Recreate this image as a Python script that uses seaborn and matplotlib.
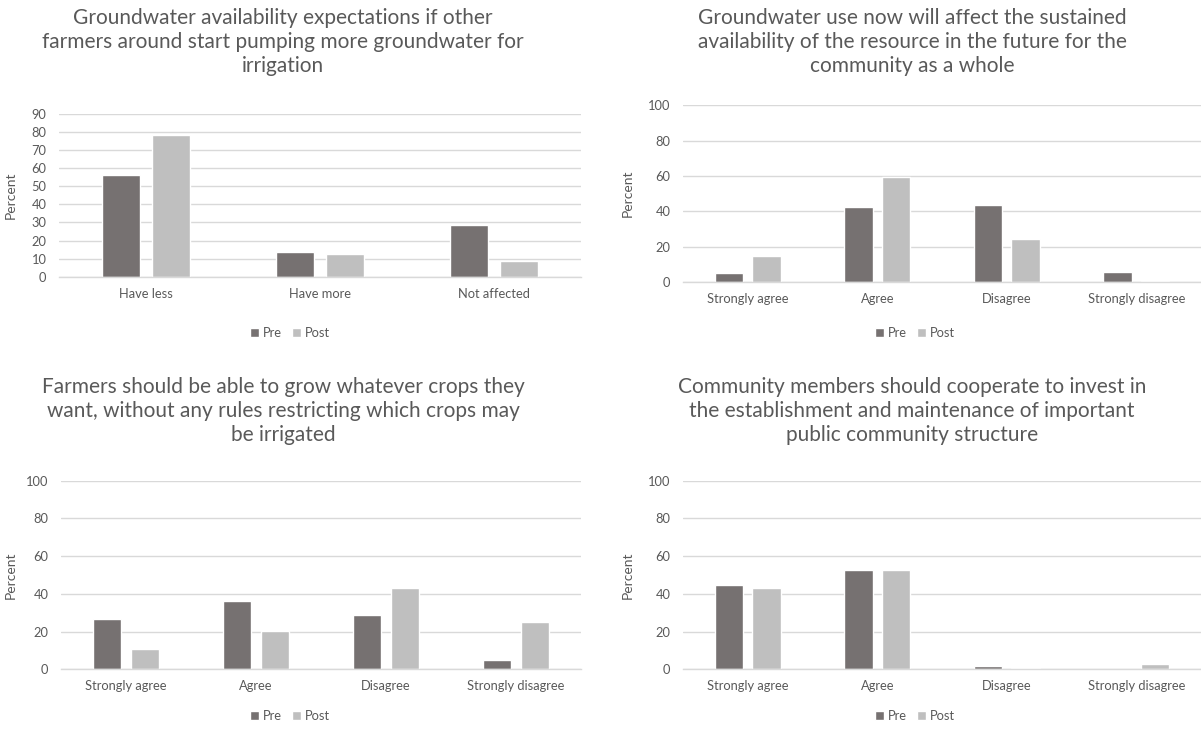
import matplotlib
matplotlib.use("Agg")
import matplotlib.pyplot as plt
from matplotlib.patches import Patch
import pandas as pd
import seaborn as sns

# ---- data -------------------------------------------------------------
series_names = ["Pre", "Post"]

avail_categories = ["Have less", "Have more", "Not affected"]
avail_pre = [56.5, 13.8, 28.5]
avail_post = [78.4, 12.5, 8.6]

agree_categories = ["Strongly agree", "Agree", "Disagree", "Strongly disagree"]

future_pre = [4.9, 42.2, 43.7, 5.7]
future_post = [14.6, 59.6, 24.4, 0.4]

crops_pre = [26.9, 36.3, 29.0, 5.1]
crops_post = [10.6, 20.5, 43.2, 25.1]

coop_pre = [44.9, 52.7, 1.6, 0.0]
coop_post = [43.3, 52.7, 0.5, 3.0]

titles = [
    ["Groundwater availability expectations if other",
     "farmers around start pumping more groundwater for",
     "irrigation"],
    ["Groundwater use now will affect the sustained",
     "availability of the resource in the future for the",
     "community as a whole"],
    ["Farmers should be able to grow whatever crops they",
     "want, without any rules restricting which crops may",
     "be irrigated"],
    ["Community members should cooperate to invest in",
     "the establishment and maintenance of important",
     "public community structure"],
]

# ---- styling ----------------------------------------------------------
PRE_COLOR = "#767171"
POST_COLOR = "#BFBFBF"
GRID_COLOR = "#D9D9D9"
TEXT_COLOR = "#595959"

sns.set_theme(style="white")
plt.rcParams["font.family"] = ["Lato", "DejaVu Sans"]

W, H = 1201, 729
fig = plt.figure(figsize=(W / 100, H / 100), dpi=100)


def px_axes(left, right, top, bottom):
    return fig.add_axes([left / W, 1 - bottom / H, (right - left) / W, (bottom - top) / H])


def long_frame(categories, pre, post):
    return pd.DataFrame({
        "category": list(categories) * 2,
        "percent": list(pre) + list(post),
        "survey": [series_names[0]] * len(categories) + [series_names[1]] * len(categories),
    })


panels = [
    dict(cats=avail_categories, pre=avail_pre, post=avail_post,
         box=(59, 581, 114, 276.7), ymax=90, step=10, ylab_x=17,
         title_x=283, title_y=18, legend_x=290, legend_y=333),
    dict(cats=agree_categories, pre=future_pre, post=future_post,
         box=(683, 1201, 105.3, 282), ymax=100, step=20, ylab_x=634,
         title_x=912, title_y=18, legend_x=915, legend_y=333),
    dict(cats=agree_categories, pre=crops_pre, post=crops_post,
         box=(61, 581, 480.7, 669.3), ymax=100, step=20, ylab_x=17,
         title_x=283, title_y=387, legend_x=290, legend_y=716),
    dict(cats=agree_categories, pre=coop_pre, post=coop_post,
         box=(683, 1201, 480.7, 669.3), ymax=100, step=20, ylab_x=634,
         title_x=912, title_y=387, legend_x=915, legend_y=716),
]

for p, title_lines in zip(panels, titles):
    left, right, top, bottom = p["box"]
    ax = px_axes(left, right, top, bottom)
    df = long_frame(p["cats"], p["pre"], p["post"])
    sns.barplot(data=df, x="category", y="percent", hue="survey",
                hue_order=series_names, palette=[PRE_COLOR, POST_COLOR],
                width=0.58, gap=0.25, saturation=1, ax=ax, legend=False,
                errorbar=None)
    ax.set_ylim(0, p["ymax"])
    ax.set_yticks(range(0, p["ymax"] + 1, p["step"]))
    ax.set_xlim(-0.5, len(p["cats"]) - 0.5)
    ax.yaxis.grid(True, color=GRID_COLOR, linewidth=1.0)
    ax.set_axisbelow(True)
    for side in ["left", "right", "top"]:
        ax.spines[side].set_visible(False)
    ax.spines["bottom"].set_color(GRID_COLOR)
    ax.spines["bottom"].set_linewidth(1.0)
    ax.tick_params(axis="both", length=0, labelsize=9.3, colors=TEXT_COLOR)
    ax.tick_params(axis="y", pad=9)
    ax.tick_params(axis="x", pad=8)
    ax.set_xlabel("")
    ax.set_ylabel("Percent", fontsize=10, color=TEXT_COLOR)
    ax.yaxis.set_label_coords((p["ylab_x"] - left) / (right - left), 0.5)

    for i, line in enumerate(title_lines):
        fig.text(p["title_x"] / W, 1 - (p["title_y"] + 24 * i) / H, line,
                 ha="center", va="center", fontsize=15, color=TEXT_COLOR)

    handles = [Patch(facecolor=PRE_COLOR, label=series_names[0]),
               Patch(facecolor=POST_COLOR, label=series_names[1])]
    fig.legend(handles=handles, loc="center",
               bbox_to_anchor=(p["legend_x"] / W, 1 - p["legend_y"] / H),
               ncol=2, frameon=False, fontsize=9.3, labelcolor=TEXT_COLOR,
               handlelength=0.7, handleheight=0.7, handletextpad=0.3,
               columnspacing=0.8, borderaxespad=0)

fig.savefig("out.png", dpi=100, facecolor="white")
